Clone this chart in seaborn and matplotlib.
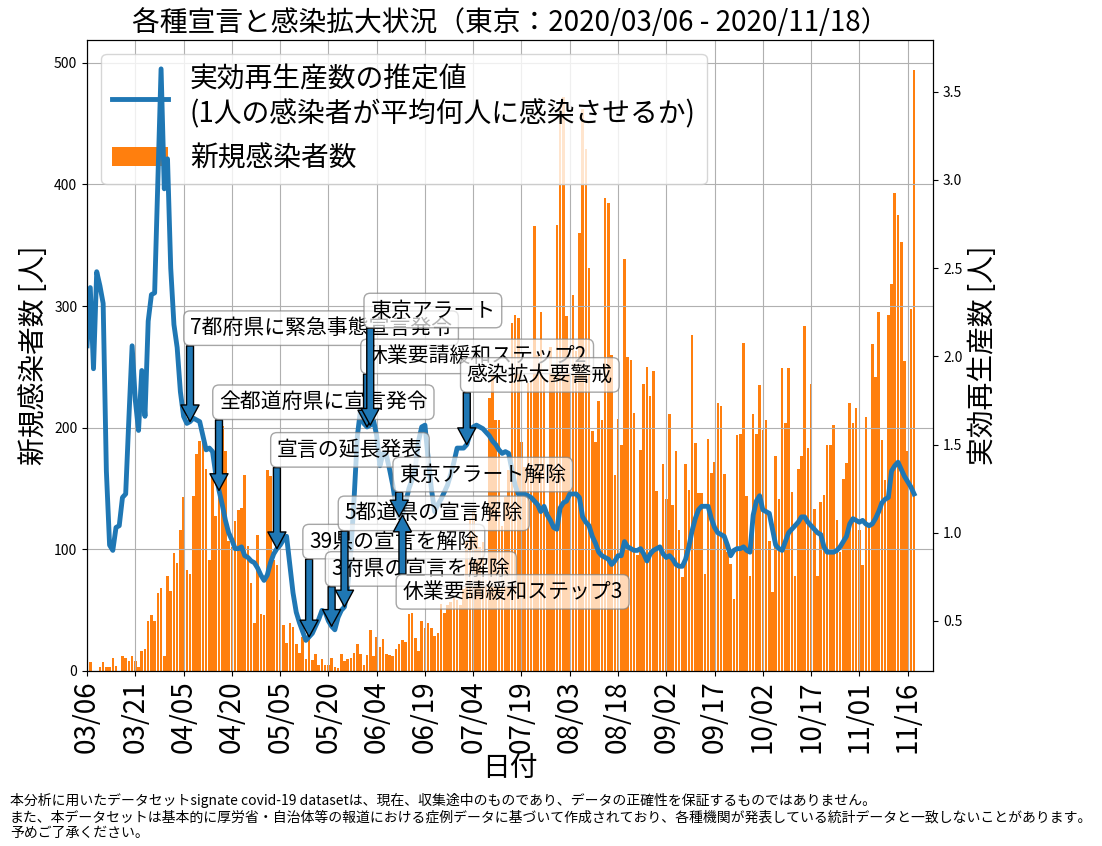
import matplotlib
matplotlib.use("Agg")
import matplotlib.pyplot as plt
import numpy as np
import pandas as pd
import seaborn as sns

plt.rcParams['font.family'] = ['Noto Sans CJK JP', 'DejaVu Sans']

# dates on the x axis (2020/03/06 - 2020/11/18)
dates = pd.date_range('2020-03-06', '2020-11-18', freq='D')
date_labels = dates.strftime('%m/%d')

# new cases per day, by month
cases_mar = [0, 7, 0, 0, 3, 7, 3, 3, 11, 4, 0, 12, 11, 8, 12, 8, 3, 16, 18, 41,
             46, 41, 64, 68, 12, 78]
cases_apr = [66, 97, 89, 116, 143, 83, 80, 144, 178, 189, 197, 166, 91, 161, 127,
             149, 201, 181, 107, 102, 123, 132, 134, 161, 103, 72, 39, 112, 47, 46]
cases_may = [165, 160, 91, 87, 58, 38, 23, 39, 36, 22, 15, 28, 10, 30, 9, 14, 5,
             10, 5, 5, 11, 3, 2, 14, 8, 10, 11, 15, 22, 14, 5]
cases_jun = [13, 34, 12, 28, 20, 26, 14, 13, 12, 18, 22, 25, 24, 47, 48, 27, 16,
             41, 35, 39, 35, 29, 31, 55, 48, 54, 57, 60, 58, 54]
cases_jul = [67, 107, 124, 131, 111, 102, 106, 75, 224, 243, 206, 206, 119, 143,
             165, 286, 293, 290, 188, 168, 237, 238, 366, 260, 295, 239, 131, 266,
             250, 367, 463]
cases_aug = [472, 292, 258, 309, 263, 360, 462, 429, 331, 197, 188, 222, 206, 389,
             385, 260, 161, 207, 186, 339, 258, 256, 212, 95, 182, 236, 250, 226,
             247, 148, 100]
cases_sep = [170, 141, 211, 136, 181, 116, 77, 170, 149, 276, 187, 146, 146, 80,
             191, 163, 172, 220, 218, 162, 98, 88, 59, 194, 195, 270, 144, 78, 211,
             195]
cases_oct = [235, 198, 206, 107, 65, 177, 141, 249, 204, 249, 147, 78, 166, 177,
             284, 183, 236, 133, 78, 139, 145, 186, 186, 202, 124, 98, 158, 171,
             220, 204, 216]
cases_nov = [116, 87, 209, 122, 269, 242, 295, 190, 157, 293, 318, 393, 375, 353,
             255, 181, 298, 494]

# estimated effective reproduction number, by month
rt_mar = [2.06, 2.39, 1.93, 2.48, 2.40, 2.30, 1.35, 0.93, 0.90, 1.03, 1.04, 1.20,
          1.22, 1.65, 2.06, 1.75, 1.58, 1.92, 1.66, 2.20, 2.35, 2.36, 3.00, 3.63,
          2.95, 3.12]
rt_apr = [2.50, 2.18, 2.05, 1.80, 1.66, 1.62, 1.63, 1.65, 1.64, 1.63, 1.55, 1.47,
          1.48, 1.46, 1.33, 1.24, 1.16, 1.07, 1.00, 0.96, 0.91, 0.91, 0.92, 0.87,
          0.86, 0.84, 0.83, 0.80, 0.76, 0.73]
rt_may = [0.76, 0.83, 0.88, 0.91, 0.93, 0.96, 0.98, 0.82, 0.66, 0.55, 0.49, 0.44,
          0.39, 0.41, 0.43, 0.47, 0.51, 0.56, 0.55, 0.50, 0.47, 0.45, 0.52, 0.56,
          0.58, 0.70, 0.90, 1.20, 1.55, 1.70, 1.62]
rt_jun = [1.60, 1.61, 1.64, 1.55, 1.38, 1.45, 1.44, 1.36, 1.27, 1.15, 1.09, 1.10,
          1.17, 1.25, 1.30, 1.37, 1.52, 1.60, 1.61, 1.42, 1.25, 1.12, 1.16, 1.19,
          1.23, 1.27, 1.33, 1.40, 1.48, 1.48]
rt_jul = [1.48, 1.50, 1.56, 1.60, 1.61, 1.60, 1.59, 1.57, 1.55, 1.52, 1.50, 1.47,
          1.45, 1.46, 1.45, 1.36, 1.27, 1.22, 1.22, 1.22, 1.21, 1.20, 1.18, 1.16,
          1.12, 1.15, 1.10, 1.07, 1.03, 1.02, 1.14]
rt_aug = [1.17, 1.18, 1.22, 1.22, 1.22, 1.20, 1.09, 1.06, 1.04, 0.98, 0.94, 0.89,
          0.87, 0.86, 0.85, 0.82, 0.84, 0.87, 0.87, 0.95, 0.92, 0.91, 0.90, 0.90,
          0.91, 0.88, 0.84, 0.88, 0.90, 0.91, 0.92]
rt_sep = [0.88, 0.86, 0.87, 0.85, 0.82, 0.81, 0.81, 0.85, 0.92, 1.01, 1.08, 1.13,
          1.15, 1.15, 1.15, 1.08, 1.03, 1.00, 0.99, 0.98, 0.93, 0.87, 0.90, 0.91,
          0.91, 0.92, 0.90, 0.89, 1.10, 1.18]
rt_oct = [1.21, 1.13, 1.12, 1.11, 1.02, 0.93, 0.91, 0.90, 0.95, 1.00, 1.02, 1.04,
          1.06, 1.09, 1.09, 1.06, 1.04, 1.02, 1.00, 0.99, 0.92, 0.89, 0.89, 0.89,
          0.90, 0.92, 0.95, 0.98, 1.05, 1.08, 1.07]
rt_nov = [1.06, 1.07, 1.05, 1.04, 1.05, 1.08, 1.12, 1.17, 1.19, 1.20, 1.35, 1.38,
          1.40, 1.36, 1.32, 1.29, 1.26, 1.22]

new_cases = np.array(cases_mar + cases_apr + cases_may + cases_jun + cases_jul
                     + cases_aug + cases_sep + cases_oct + cases_nov)
rt_estimate = np.array(rt_mar + rt_apr + rt_may + rt_jun + rt_jul
                       + rt_aug + rt_sep + rt_oct + rt_nov)

# events (name, date)
event_names = ['7都府県に緊急事態宣言発令', '全都道府県に宣言発令', '宣言の延長発表',
               '39県の宣言を解除', '3府県の宣言を解除', '5都道県の宣言解除',
               '休業要請緩和ステップ2', '東京アラート', '東京アラート解除',
               '休業要請緩和ステップ3', '感染拡大要警戒']
event_dates = ['2020-04-07', '2020-04-16', '2020-05-04', '2020-05-14', '2020-05-21',
               '2020-05-25', '2020-06-01', '2020-06-02', '2020-06-11', '2020-06-12',
               '2020-07-02']
# height (in Rt units) of each label
event_label_y = [2.16, 1.74, 1.47, 0.95, 0.795, 1.11, 2.0, 2.26, 1.33, 0.665, 1.895]

note = ("本分析に用いたデータセットsignate covid-19 datasetは、現在、収集途中のものであり、"
        "データの正確性を保証するものではありません。\n"
        "また、本データセットは基本的に厚労省・自治体等の報道における症例データに基づいて作成されており、"
        "各種機関が発表している統計データと一致しないことがあります。\n"
        "予めご了承ください。")

day = np.arange(len(dates))

fig, ax1 = plt.subplots(figsize=(11.02, 8.46), dpi=100)
fig.subplots_adjust(left=0.079, right=0.847, top=0.953, bottom=0.207)
ax2 = ax1.twinx()

sns.barplot(x=day, y=new_cases, native_scale=True, color='#ff7f0e', saturation=1,
            width=0.8, linewidth=0, errorbar=None, ax=ax1, label='新規感染者数')
sns.lineplot(x=day, y=rt_estimate, color='#1f77b4', linewidth=3.5, ax=ax2,
             label='実効再生産数の推定値\n(1人の感染者が平均何人に感染させるか)')
if ax2.get_legend() is not None:
    ax2.get_legend().remove()

ax1.set_xlim(0, 263)
ax1.set_ylim(0, 519)
ax2.set_ylim(0.217, 3.795)
ax1.set_xticks(day[::15])
ax1.set_xticklabels(date_labels[::15], rotation=90, fontsize=20)
ax1.tick_params(axis='y', labelsize=10)
ax2.tick_params(axis='y', labelsize=10)
ax1.grid(True)

ax1.set_xlabel('日付', fontsize=20, labelpad=0)
ax1.set_ylabel('新規感染者数 [人]', fontsize=20)
ax2.set_ylabel('実効再生産数 [人]', fontsize=20)
ax1.set_title('各種宣言と感染拡大状況（東京：2020/03/06 - 2020/11/18）', fontsize=20)

h1, l1 = ax1.get_legend_handles_labels()
h2, l2 = ax2.get_legend_handles_labels()
ax1.legend(h2 + h1, l2 + l1, loc='upper left', fontsize=20)

for name, d, ty in zip(event_names, event_dates, event_label_y):
    i = int((pd.Timestamp(d) - dates[0]).days)
    ax2.annotate(name, xy=(i, rt_estimate[i]), xytext=(i, ty), fontsize=15,
                 ha='left', va='center',
                 bbox=dict(boxstyle='round', fc='w', ec='0.5', alpha=0.7),
                 arrowprops=dict(facecolor='#1f77b4', edgecolor='black', width=5,
                                 headwidth=13, headlength=12, shrink=0.0))

fig.text(0.009, 0.063, note, fontsize=10, va='top', ha='left')

fig.savefig('out.png', dpi=100)
